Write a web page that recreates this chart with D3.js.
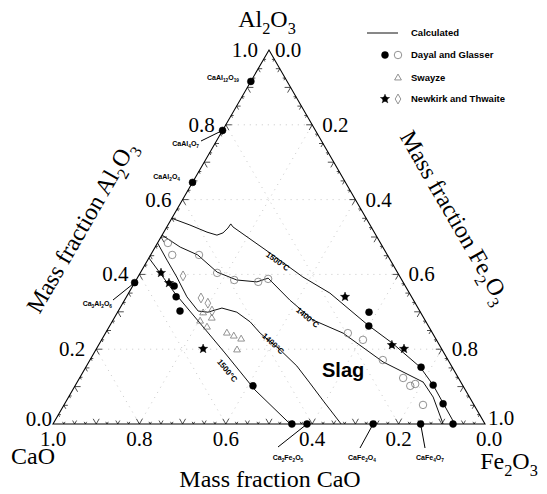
<!DOCTYPE html>
<html>
<head>
<meta charset="utf-8">
<script src="https://cdn.jsdelivr.net/npm/d3@7"></script>
<style>
  body { margin: 0; background: #fff; }
  svg { display: block; }
</style>
</head>
<body>
<div id="chart"></div>
<script>
// every composition is [CaO, Al2O3, Fe2O3] in mass fraction
var curve1500Upper = [
    [0.450, 0.550, 0.000], [0.417, 0.532, 0.051], [0.387, 0.513, 0.100], [0.368, 0.505, 0.127],
    [0.351, 0.511, 0.138], [0.333, 0.524, 0.143], [0.321, 0.535, 0.144], [0.320, 0.527, 0.153],
    [0.269, 0.457, 0.274], [0.225, 0.393, 0.382], [0.184, 0.350, 0.466], [0.139, 0.265, 0.596],
    [0.107, 0.217, 0.676], [0.074, 0.152, 0.774], [0.068, 0.104, 0.828], [0.069, 0.056, 0.875],
    [0.070, 0.000, 0.930]
];
var curve1400Upper = [
    [0.495, 0.505, 0.000], [0.469, 0.473, 0.058], [0.439, 0.452, 0.109], [0.417, 0.406, 0.177],
    [0.382, 0.385, 0.233], [0.338, 0.380, 0.282], [0.307, 0.390, 0.303], [0.286, 0.331, 0.383],
    [0.259, 0.278, 0.463], [0.207, 0.243, 0.550], [0.153, 0.166, 0.681], [0.087, 0.112, 0.801],
    [0.084, 0.072, 0.844], [0.097, 0.000, 0.903]
];
var curve1400Lower = [
    [0.516, 0.484, 0.000], [0.517, 0.438, 0.045], [0.517, 0.393, 0.090], [0.520, 0.340, 0.140],
    [0.513, 0.302, 0.185], [0.492, 0.299, 0.209], [0.454, 0.310, 0.236], [0.424, 0.299, 0.276],
    [0.408, 0.273, 0.320], [0.399, 0.243, 0.358], [0.376, 0.198, 0.427], [0.358, 0.155, 0.487],
    [0.351, 0.112, 0.537], [0.343, 0.059, 0.598], [0.333, 0.000, 0.667]
];
var curve1500Lower = [
    [0.556, 0.444, 0.000], [0.543, 0.350, 0.107], [0.525, 0.270, 0.205], [0.507, 0.190, 0.303],
    [0.487, 0.091, 0.422], [0.451, 0.000, 0.549]
];

var dayalSolid = [
    [0.119, 0.299, 0.582], [0.138, 0.262, 0.600], [0.072, 0.152, 0.776], [0.068, 0.104, 0.828],
    [0.070, 0.054, 0.876], [0.074, 0.000, 0.926], [0.535, 0.369, 0.096], [0.546, 0.340, 0.115],
    [0.555, 0.302, 0.143], [0.486, 0.102, 0.412], [0.447, 0.000, 0.553]
];
var dayalOpen = [
    [0.492, 0.484, 0.024], [0.499, 0.452, 0.050], [0.436, 0.452, 0.112], [0.419, 0.404, 0.178],
    [0.389, 0.385, 0.227], [0.336, 0.380, 0.285], [0.309, 0.388, 0.304], [0.196, 0.243, 0.561],
    [0.170, 0.225, 0.605], [0.150, 0.171, 0.678], [0.128, 0.123, 0.749], [0.123, 0.102, 0.776],
    [0.109, 0.107, 0.785], [0.118, 0.051, 0.831]
];
var swayze = [
    [0.505, 0.297, 0.199], [0.522, 0.275, 0.203], [0.514, 0.259, 0.227], [0.490, 0.283, 0.226],
    [0.476, 0.243, 0.281], [0.463, 0.235, 0.301], [0.451, 0.227, 0.322], [0.475, 0.198, 0.327]
];
var newkirkSolid = [
    [0.154, 0.340, 0.506], [0.110, 0.211, 0.679], [0.087, 0.201, 0.712], [0.548, 0.404, 0.048],
    [0.543, 0.377, 0.080], [0.553, 0.201, 0.247]
];
var newkirkOpen = [
    [0.501, 0.396, 0.103], [0.489, 0.337, 0.174], [0.480, 0.323, 0.197], [0.481, 0.302, 0.217]
];

var compoundNames = ["CaAl12O19", "CaAl4O7", "CaAl2O4", "Ca3Al2O6", "Ca2Fe2O5", "CaFe2O4", "CaFe4O7"];
var compoundComps = [
    [0.084, 0.916, 0.000], [0.215, 0.785, 0.000], [0.354, 0.646, 0.000], [0.622, 0.378, 0.000],
    [0.412, 0.000, 0.588], [0.259, 0.000, 0.741], [0.149, 0.000, 0.851]
];
var axisTicks = [0, 0.2, 0.4, 0.6, 0.8, 1.0];

var width = 547, height = 494;
var serif = "'Liberation Serif', 'Times New Roman', serif";
var sans = "'Liberation Sans', Arial, sans-serif";

var svg = d3.select("#chart").append("svg")
    .attr("width", width)
    .attr("height", height);

// ternary projection: x runs with Fe2O3 (plus half the Al2O3), y with Al2O3
var x = d3.scaleLinear().domain([0, 1]).range([53, 485]);
var y = d3.scaleLinear().domain([0, 1]).range([424, 50]);
function pt(d) {
    return [x(d[2] + d[1] / 2), y(d[1])];
}
var fmt = d3.format(".1f");

// text with subscripted digits, for the oxide formulas
function chem(text, str, size) {
    var shift = 0;
    str.split(/(\d+)/).forEach(function (p) {
        if (!p) return;
        var isSub = /^\d+$/.test(p);
        var target = isSub ? size * 0.3 : 0;
        text.append("tspan")
            .attr("dy", target - shift)
            .style("font-size", (isSub ? size * 0.68 : size) + "px")
            .text(p);
        shift = target;
    });
    return text;
}

//faint dotted grid
var grid = svg.append("g")
    .attr("stroke", "#b0b0b0")
    .attr("stroke-width", 0.7)
    .attr("stroke-dasharray", "1 5")
    .attr("fill", "none");
[0.2, 0.4, 0.6, 0.8].forEach(function (t) {
    [[[1 - t, t, 0], [0, t, 1 - t]],
     [[t, 1 - t, 0], [t, 0, 1 - t]],
     [[1 - t, 0, t], [0, 1 - t, t]]].forEach(function (seg) {
        var p0 = pt(seg[0]), p1 = pt(seg[1]);
        grid.append("line").attr("x1", p0[0]).attr("y1", p0[1]).attr("x2", p1[0]).attr("y2", p1[1]);
    });
});

//triangle frame
var frame = [[1, 0, 0], [0, 1, 0], [0, 0, 1]].map(pt);
svg.append("path")
    .attr("d", "M" + frame.join("L") + "Z")
    .attr("fill", "none")
    .attr("stroke", "#000")
    .attr("stroke-width", 1.1);

//ticks: small V marks pointing inside along the two other grid directions
var edges = [
    {at: function (t) { return [1 - t, 0, t]; }, dirs: [[-0.5, -0.866], [0.5, -0.866]]},
    {at: function (t) { return [1 - t, t, 0]; }, dirs: [[1, 0], [0.5, 0.866]]},
    {at: function (t) { return [0, 1 - t, t]; }, dirs: [[-1, 0], [-0.5, 0.866]]}
];
var ticks = svg.append("g").attr("stroke", "#000").attr("stroke-width", 0.7);
edges.forEach(function (e) {
    d3.range(1, 40).forEach(function (i) {
        var len = i % 4 === 0 ? 6 : (i % 2 === 0 ? 4 : 2.5);
        var p = pt(e.at(i / 40));
        e.dirs.forEach(function (v) {
            ticks.append("line")
                .attr("x1", p[0]).attr("y1", p[1])
                .attr("x2", p[0] + v[0] * len).attr("y2", p[1] + v[1] * len);
        });
    });
});

//tick labels
var labels = svg.append("g")
    .style("font-family", serif)
    .style("font-size", "21px")
    .attr("fill", "#000");
axisTicks.forEach(function (t) {
    var pl = pt([1 - t, t, 0]);
    labels.append("text")
        .attr("x", pl[0] - (t === 0 ? 1 : 11))
        .attr("y", pl[1] + (t === 0 ? 2 : 7))
        .attr("text-anchor", "end")
        .text(fmt(t));
    var pr = pt([0, 1 - t, t]);
    labels.append("text")
        .attr("x", pr[0] + (t === 1 ? 3 : (t === 0 ? 6 : 10)))
        .attr("y", pr[1] + (t === 1 ? 1 : 7))
        .attr("text-anchor", "start")
        .text(fmt(t));
    var pb = pt([t, 0, 1 - t]);
    labels.append("text")
        .attr("x", pb[0] + (t === 0 ? 4 : 0))
        .attr("y", pb[1] + 22)
        .attr("text-anchor", "middle")
        .text(fmt(t));
});

//axis and vertex titles
chem(svg.append("text").attr("x", 267).attr("y", 27).attr("text-anchor", "middle")
    .style("font-family", serif), "Al2O3", 24);
chem(svg.append("text").attr("x", 33).attr("y", 464).attr("text-anchor", "middle")
    .style("font-family", serif), "CaO", 24);
chem(svg.append("text").attr("x", 509).attr("y", 469).attr("text-anchor", "middle")
    .style("font-family", serif), "Fe2O3", 24);
chem(svg.append("text").attr("x", 270).attr("y", 487).attr("text-anchor", "middle")
    .style("font-family", serif), "Mass fraction CaO", 24);
chem(svg.append("text").attr("transform", "translate(88,231) rotate(-60)").attr("text-anchor", "middle")
    .attr("dy", 7).style("font-family", serif), "Mass fraction Al2O3", 24);
chem(svg.append("text").attr("transform", "translate(448,221) rotate(60)").attr("text-anchor", "middle")
    .attr("dy", 7).style("font-family", serif), "Mass fraction Fe2O3", 24);

//calculated isotherms
var line = d3.line().x(function (d) { return pt(d)[0]; }).y(function (d) { return pt(d)[1]; });
[curve1500Upper, curve1400Upper, curve1400Lower, curve1500Lower].forEach(function (c) {
    svg.append("path")
        .attr("d", line(c))
        .attr("fill", "none")
        .attr("stroke", "#111")
        .attr("stroke-width", 1);
});

//isotherm labels
var isoLabels = [
    {text: "1500°C", pos: [0.262, 0.435, 0.303], rot: 36},
    {text: "1400°C", pos: [0.268, 0.285, 0.447], rot: 40},
    {text: "1400°C", pos: [0.383, 0.215, 0.402], rot: 43},
    {text: "1500°C", pos: [0.525, 0.143, 0.332], rot: 51}
];
isoLabels.forEach(function (l) {
    var p = pt(l.pos);
    svg.append("text")
        .attr("transform", "translate(" + p[0] + "," + p[1] + ") rotate(" + l.rot + ")")
        .attr("text-anchor", "middle")
        .attr("dy", "0.35em")
        .style("font-family", sans)
        .style("font-weight", "bold")
        .style("font-size", "8px")
        .text(l.text);
});

svg.append("text")
    .attr("x", 322).attr("y", 377)
    .style("font-family", sans)
    .style("font-weight", "bold")
    .style("font-size", "20px")
    .text("Slag");

//markers
function drawMarks(data, type, size, filled) {
    var sym = d3.symbol().type(type).size(size);
    svg.append("g").selectAll("path")
        .data(data)
        .enter()
        .append("path")
        .attr("transform", function (d) { var p = pt(d); return "translate(" + p[0] + "," + p[1] + ")"; })
        .attr("d", sym)
        .attr("fill", filled ? "#000" : "none")
        .attr("stroke", filled ? "#000" : "#777")
        .attr("stroke-width", filled ? 0.5 : 0.8);
}
drawMarks(dayalOpen, d3.symbolCircle, 44, false);
drawMarks(newkirkOpen, d3.symbolDiamond, 28, false);
drawMarks(swayze, d3.symbolTriangle, 20, false);
drawMarks(dayalSolid, d3.symbolCircle, 38, true);
drawMarks(compoundComps, d3.symbolCircle, 38, true);
drawMarks(newkirkSolid, d3.symbolStar, 26, true);
drawMarks(newkirkSolid, d3.symbolCircle, 18, true);

//compound labels with leader lines
var compoundText = [
    {x: 239, y: 80, anchor: "end", lead: null},
    {x: 199, y: 146, anchor: "end", lead: [201, 141]},
    {x: 180, y: 179, anchor: "end", lead: null},
    {x: 112, y: 306, anchor: "end", lead: [113, 300]},
    {x: 288, y: 460, anchor: "middle", lead: [278, 447]},
    {x: 362, y: 460, anchor: "middle", lead: [360, 448]},
    {x: 430, y: 460, anchor: "middle", lead: [425, 448]}
];
compoundNames.forEach(function (name, i) {
    var t = compoundText[i];
    chem(svg.append("text")
        .attr("x", t.x).attr("y", t.y)
        .attr("text-anchor", t.anchor)
        .style("font-family", sans)
        .style("font-weight", "bold"), name, 7);
    if (t.lead) {
        var p = pt(compoundComps[i]);
        svg.append("line")
            .attr("x1", t.lead[0]).attr("y1", t.lead[1])
            .attr("x2", p[0]).attr("y2", p[1])
            .attr("stroke", "#000")
            .attr("stroke-width", 1);
    }
});

//legend
var legend = svg.append("g")
    .style("font-family", sans)
    .style("font-weight", "bold")
    .style("font-size", "9.5px");
legend.append("line")
    .attr("x1", 367).attr("y1", 33).attr("x2", 398).attr("y2", 33)
    .attr("stroke", "#111").attr("stroke-width", 1);
var legendItems = [
    {y: 33, text: "Calculated", marks: []},
    {y: 55, text: "Dayal and Glasser", marks: [[385, d3.symbolCircle, 38, true], [398, d3.symbolCircle, 44, false]]},
    {y: 78, text: "Swayze", marks: [[398, d3.symbolTriangle, 20, false]]},
    {y: 99, text: "Newkirk and Thwaite", marks: [[385, d3.symbolStar, 26, true], [385, d3.symbolCircle, 18, true], [398, d3.symbolDiamond, 28, false]]}
];
legendItems.forEach(function (it) {
    legend.append("text").attr("x", 411).attr("y", it.y).attr("dy", "0.35em").text(it.text);
    it.marks.forEach(function (m) {
        legend.append("path")
            .attr("transform", "translate(" + m[0] + "," + it.y + ")")
            .attr("d", d3.symbol().type(m[1]).size(m[2]))
            .attr("fill", m[3] ? "#000" : "none")
            .attr("stroke", m[3] ? "#000" : "#777")
            .attr("stroke-width", m[3] ? 0.5 : 0.8);
    });
});
</script>
</body>
</html>
